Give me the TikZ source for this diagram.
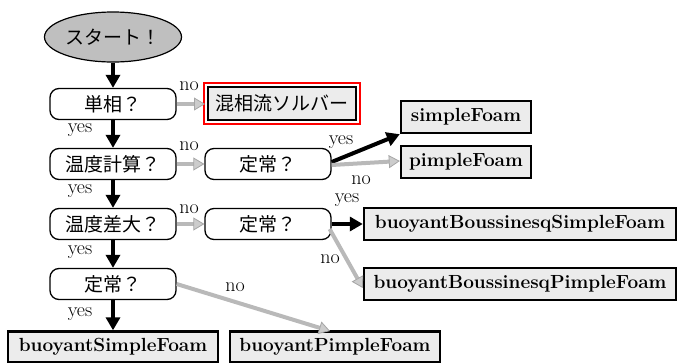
\documentclass[tikz,border=0pt]{standalone}
\usepackage{fontspec}
\newfontfamily\jp{Noto Sans CJK JP}[FakeBold=0]
\usetikzlibrary{shapes.geometric,arrows.meta}
\begin{document}
\begin{tikzpicture}[x=1pt,y=-1pt,
  decision/.style={draw, line width=1.3pt, rounded corners=9pt, fill=white, minimum width=126pt, minimum height=31pt, inner sep=0pt, font=\jp\fontsize{19}{19}\selectfont},
  solver/.style={draw, line width=2.4pt, fill=gray!15, minimum height=32pt, inner sep=3pt, font=\bfseries\fontsize{19}{19}\selectfont},
  yesarr/.style={line width=4pt, -{Triangle[length=13pt,width=14pt]}},
  noarr/.style={line width=4pt, draw=gray!55, -{Triangle[length=11pt,width=13pt, fill=gray!40, color=gray!70, line width=0.8pt]}},
  lab/.style={font=\fontsize{20}{20}\selectfont, inner sep=0pt}
]
\useasboundingbox (0,0) rectangle (679,362);
% start
\node[ellipse, draw, line width=1.2pt, fill=gray!50, minimum width=137pt, minimum height=50pt, inner sep=0pt, font=\jp\fontsize{19}{19}\selectfont] (start) at (113,37) {スタート！};
% left column
\node[decision] (d1) at (113,104) {単相？};
\node[decision] (d2) at (113,164) {温度計算？};
\node[decision] (d3) at (113,224) {温度差大？};
\node[decision] (d4) at (113,284) {定常？};
% middle column
\node[decision] (e2) at (268,164) {定常？};
\node[decision] (e3) at (268,224) {定常？};
% solvers
\node[solver, minimum width=148pt, minimum height=33pt, font=\jp\fontsize{19}{19}\selectfont] (mix) at (282,103.5) {混相流ソルバー};
\draw[red, line width=2pt] ([xshift=-3pt,yshift=3pt]mix.north west) rectangle ([xshift=3pt,yshift=-3pt]mix.south east);
\coordinate (mixin) at (205,104);
\node[solver, minimum width=130pt] (simple) at (466,117) {simpleFoam};
\node[solver, minimum width=130pt] (pimple) at (466,162) {pimpleFoam};
\node[solver, minimum width=312pt] (bbs) at (520,224) {buoyantBoussinesqSimpleFoam};
\node[solver, minimum width=312pt] (bbp) at (520,284) {buoyantBoussinesqPimpleFoam};
\node[solver, minimum width=210pt, minimum height=31pt] (bs) at (113,347) {buoyantSimpleFoam};
\node[solver, minimum width=210pt, minimum height=31pt] (bp) at (335,347) {buoyantPimpleFoam};
\coordinate (bpin) at (330,331);
% yes arrows
\draw[yesarr] (start) -- (d1);
\draw[yesarr] (d1) -- (d2);
\draw[yesarr] (d2) -- (d3);
\draw[yesarr] (d3) -- (d4);
\draw[yesarr] (d4) -- (bs);
\draw[yesarr] ([yshift=2pt]e2.east) -- (simple.south west);
\draw[yesarr] (e3.east) -- (bbs.west);
% no arrows
\draw[noarr] (d1.east) -- (mixin);
\draw[noarr] (d2.east) -- (e2.west);
\draw[noarr] (d3.east) -- (e3.west);
\draw[noarr] ([yshift=-1pt]e2.east) -- ([yshift=1pt]pimple.west);
\draw[noarr] ([xshift=-2pt,yshift=-5pt]e3.east) -- ([yshift=-4pt]bbp.west);
\draw[noarr] (d4.east) -- (bpin);
% labels
\node[lab] (y1) at (80,130) {yes};
\node[lab] (y2) at (80,191) {yes};
\node[lab] (y3) at (80,252) {yes};
\node[lab] (y4) at (80,314) {yes};
\node[lab] (n1) at (189,86) {no};
\node[lab] (n2) at (189,146) {no};
\node[lab] (n3) at (189,209) {no};
\node[lab] (n4) at (235,287) {no};
\node[lab] (ys1) at (341,142) {yes};
\node[lab] (ns1) at (361,180) {no};
\node[lab] (ys2) at (347,200) {yes};
\node[lab] (ns2) at (330,259) {no};
\end{tikzpicture}
\end{document}
